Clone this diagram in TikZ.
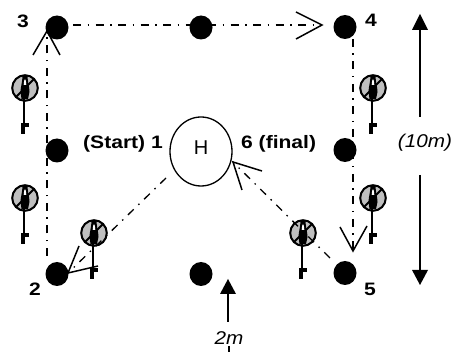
\documentclass[tikz,border=0pt]{standalone}
\usepackage{fontspec}
\usepackage{graphicx}
\usetikzlibrary{shapes.geometric}
\setmainfont{Liberation Sans}
\newcommand{\widetext}[1]{\scalebox{1.17}[1]{#1}}
\newcommand{\widesome}[1]{\scalebox{1.12}[1]{#1}}
\tikzset{
 x=1pt,y=-1pt,
 spot/.style={ellipse,fill=black,minimum width=23pt,minimum height=24pt,inner sep=0pt},
 lbl/.style={font=\fontsize{18}{20}\selectfont\bfseries,inner sep=0pt},
 ital/.style={font=\fontsize{18.5}{20}\selectfont\itshape,inner sep=0pt},
 route/.style={line width=1.3pt,dash pattern=on 8pt off 6.5pt on 1.5pt off 6.5pt},
 vee/.style={line width=1.5pt,line join=miter},
 dim/.style={line width=1.4pt},
 head/.style={fill=black,draw=none},
 keypic/.pic={
  \fill[gray!50!white,draw=black,line width=2pt] (0,0) circle (12.8);
  \draw[black,line width=2pt] (-9,9) -- (9,-9);
  \fill[black] (-2.5,-12) .. controls (-2.5,-6) and (-4.5,-1) .. (-4.5,4) -- (-3.5,11) -- (3,11) -- (4.5,4) .. controls (4.5,-1) and (2.5,-6) .. (2.5,-12) -- cycle;
  \fill[white] (-1.3,-3) .. controls (-1.3,-6) and (-0.6,-9) .. (0,-9) .. controls (0.6,-9) and (1.3,-6) .. (1.3,-3) -- cycle;
  \draw[black,line width=2.4pt] (-0.8,9) -- (-0.8,40);
  \fill[black] (-4,35) rectangle (-0.3,46);
  \fill[black] (-0.5,35) rectangle (3.5,39.5);
 }
}
\begin{document}
\begin{tikzpicture}
\useasboundingbox (0,0) rectangle (456,352);
% keys
\pic at (25,88) {keypic};
\pic at (25,198) {keypic};
\pic at (94,233) {keypic};
\pic at (373,198) {keypic};
\pic at (303,233) {keypic};
\pic at (373,88) {keypic};
% spots
\node[spot] (n3) at (57,27.5) {};
\node[spot] (nt) at (201,27.5) {};
\node[spot] (n4) at (345,27) {};
\node[spot] (nl) at (57,150.5) {};
\node[spot] (nr) at (345,150) {};
\node[spot] (n2) at (57,274) {};
\node[spot] (nb) at (201,274) {};
\node[spot] (n5) at (345,273) {};
\node[draw=black,line width=1.3pt,ellipse,minimum width=62pt,minimum height=69pt,inner sep=0pt] (home) at (201,151.5) {};
\node[inner sep=0pt,font=\fontsize{20}{22}\selectfont] (hl) at (201,147.5) {H};
% route
\coordinate (t3) at (47,31);
\coordinate (t4) at (322,25);
\coordinate (t5) at (353,251);
\coordinate (t2) at (68,273);
\coordinate (t6) at (233,162);
\coordinate (s3) at (73,25);
\coordinate (s2) at (47,256);
\coordinate (s4) at (353,39);
\coordinate (s1) at (166,178);
\coordinate (s5) at (330,258);
\draw[route] (s3) -- (t4);
\draw[route] (s2) -- (t3);
\draw[route] (s4) -- (t5);
\draw[route] (s1) -- (t2);
\draw[route] (s5) -- (t6);
\draw[vee] (33,55) -- (t3) -- (60,55);
\draw[vee] (296,12) -- (t4) -- (296,39);
\draw[vee] (340,227) -- (t5) -- (367,226);
\draw[vee] (79,246) -- (t2) -- (98,266);
\draw[vee] (242,190) -- (t6) -- (262,171);
% dimensions
\coordinate (a1) at (420,117);
\coordinate (a2) at (420,28);
\coordinate (a3) at (420,175);
\coordinate (a4) at (420,272);
\coordinate (a5) at (228,322);
\coordinate (a6) at (228,293);
\draw[dim] (a1) -- (a2);
\draw[dim] (a3) -- (a4);
\draw[dim] (a5) -- (a6);
\fill[head] (420,14) -- (412,30) -- (428,30) -- cycle;
\fill[head] (420,285) -- (412,270) -- (428,270) -- cycle;
\fill[head] (228,279) -- (220,294) -- (236,294) -- cycle;
\draw[dim] (229,346) -- (229,352);
% labels
\node[lbl] (l3) at (23,21) {\widetext{3}};
\node[lbl] (l4) at (371,20) {\widetext{4}};
\node[lbl] (l2) at (35,289) {\widetext{2}};
\node[lbl] (l5) at (370,289) {\widetext{5}};
\node[lbl,anchor=east] (l1) at (163,144) {\widetext{(Start) 1}};
\node[lbl,anchor=west] (l6) at (241,144) {\widetext{6 (final)}};
\node[ital] (m10) at (425,143) {\widesome{(10m)}};
\node[ital] (m2) at (229,338) {\widesome{2m}};
\end{tikzpicture}
\end{document}
